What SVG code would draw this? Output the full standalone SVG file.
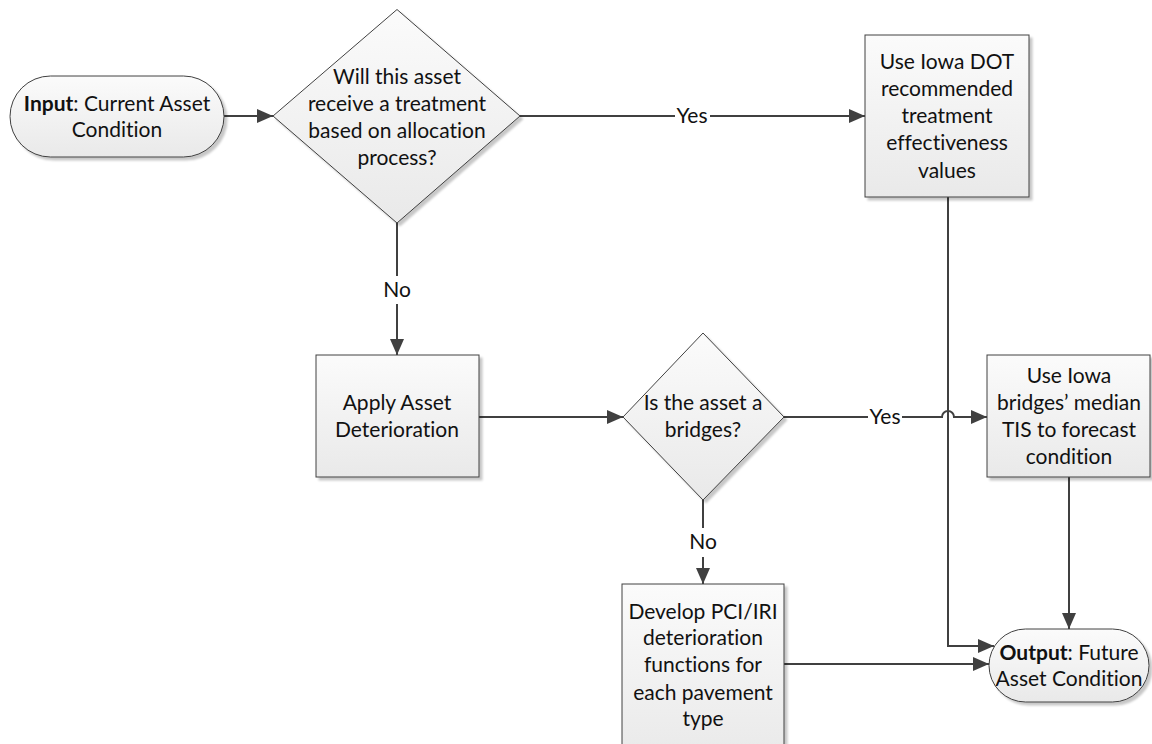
<svg xmlns="http://www.w3.org/2000/svg" width="1152" height="744" viewBox="0 0 1152 744">
<style>
.shape{fill:url(#g);stroke:#404040;stroke-width:1;filter:url(#sh)}
.t{font-family:Lato,"Liberation Sans",sans-serif;font-size:21px;fill:#111;text-anchor:middle;font-variant-ligatures:none;font-feature-settings:"liga" 0,"clig" 0}
.c{fill:none;stroke:#404040;stroke-width:2}
.arr{marker-end:url(#ah)}
</style>
<defs>
<linearGradient id="g" x1="0" y1="0" x2="0" y2="1">
<stop offset="0" stop-color="#fbfbfb"/>
<stop offset="1" stop-color="#e9e9e9"/>
</linearGradient>
<filter id="sh" x="-10%" y="-10%" width="130%" height="130%">
<feDropShadow dx="3" dy="3" stdDeviation="1" flood-color="#000" flood-opacity="0.22"/>
</filter>
<marker id="ah" markerUnits="userSpaceOnUse" markerWidth="16" markerHeight="14" refX="16" refY="7" orient="auto">
<path d="M0,0 L16,7 L0,14 z" fill="#404040"/>
</marker>
</defs>

<g id="connectors">
<path class="c arr" d="M224,116 H273"/>
<path class="c" d="M520,116 H675"/>
<path class="c arr" d="M710,116 H865"/>
<path class="c" d="M397,223 V276"/>
<path class="c arr" d="M397,304 V355"/>
<path class="c arr" d="M479,417 H623"/>
<path class="c" d="M784,417 H868"/>
<path class="c arr" d="M902,417 H942 A6,6 0 0 1 954,417 H987"/>
<path class="c arr" d="M948,197 V646 H994"/>
<path class="c" d="M703,500 V528"/>
<path class="c arr" d="M703,557 V584"/>
<path class="c arr" d="M1069,477 V629"/>
<path class="c arr" d="M784,664 H989"/>
<text class="t" x="692" y="123">Yes</text>
<text class="t" x="397" y="297">No</text>
<text class="t" x="885" y="424">Yes</text>
<text class="t" x="703" y="549">No</text>
</g>

<g id="input">
<rect class="shape" x="10" y="76" width="214" height="81" rx="40.5"/>
<text class="t" x="117" y="111"><tspan font-weight="bold">Input</tspan>: Current Asset</text>
<text class="t" x="117" y="137">Condition</text>
</g>

<g id="decision1">
<polygon class="shape" points="397,9.5 520,116 397,223 273,116"/>
<text class="t" x="397" y="84">Will this asset</text>
<text class="t" x="397" y="111">receive a treatment</text>
<text class="t" x="397" y="138">based on allocation</text>
<text class="t" x="397" y="165">process?</text>
</g>

<g id="dot-values">
<rect class="shape" x="865" y="35" width="164" height="162"/>
<text class="t" x="947" y="69">Use Iowa DOT</text>
<text class="t" x="947" y="96">recommended</text>
<text class="t" x="947" y="123">treatment</text>
<text class="t" x="947" y="150">effectiveness</text>
<text class="t" x="947" y="178">values</text>
</g>

<g id="apply">
<rect class="shape" x="316" y="355" width="163" height="122"/>
<text class="t" x="397" y="410">Apply Asset</text>
<text class="t" x="397" y="437">Deterioration</text>
</g>

<g id="decision2">
<polygon class="shape" points="703,333 784,417 703,500 623,417"/>
<text class="t" x="703" y="410">Is the asset a</text>
<text class="t" x="703" y="437">bridges?</text>
</g>

<g id="bridges-tis">
<rect class="shape" x="987" y="355" width="163" height="122"/>
<text class="t" x="1069" y="383">Use Iowa</text>
<text class="t" x="1069" y="410">bridges’ median</text>
<text class="t" x="1069" y="437">TIS to forecast</text>
<text class="t" x="1069" y="464">condition</text>
</g>

<g id="develop">
<rect class="shape" x="622" y="584" width="162" height="175"/>
<text class="t" x="703" y="619">Develop PCI/IRI</text>
<text class="t" x="703" y="645">deterioration</text>
<text class="t" x="703" y="672">functions for</text>
<text class="t" x="703" y="700">each pavement</text>
<text class="t" x="703" y="726">type</text>
</g>

<g id="output">
<rect class="shape" x="989" y="629" width="160" height="73" rx="36.5"/>
<text class="t" x="1069" y="660"><tspan font-weight="bold">Output</tspan>: Future</text>
<text class="t" x="1069" y="686">Asset Condition</text>
</g>
</svg>
